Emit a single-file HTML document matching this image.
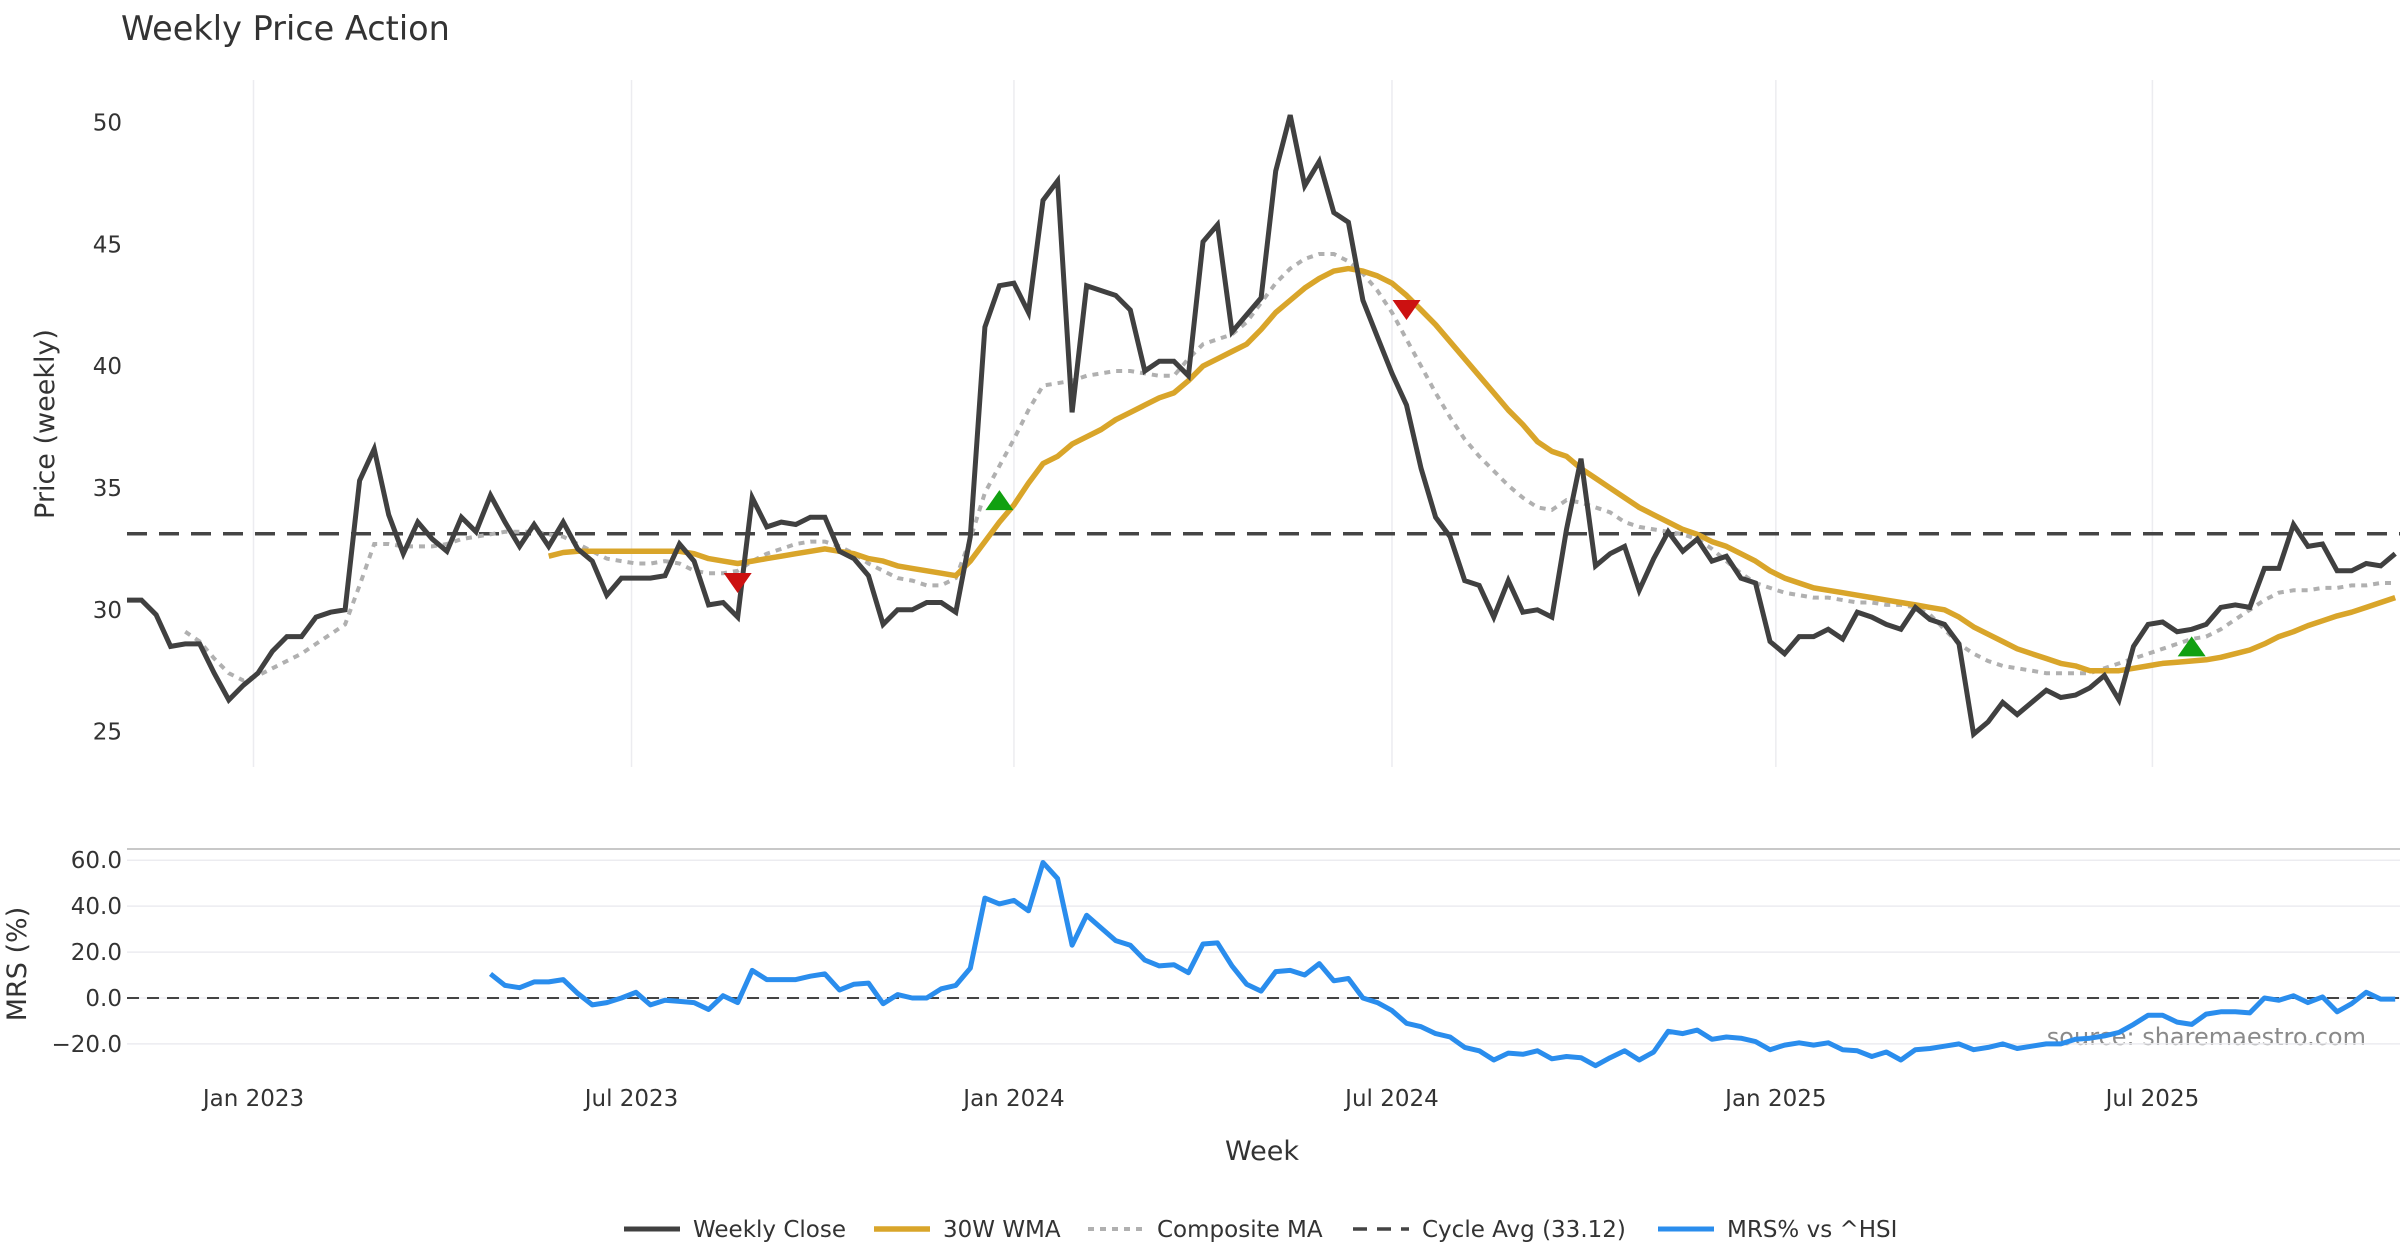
<!DOCTYPE html>
<html><head><meta charset="utf-8">
<style>
html,body{margin:0;padding:0;background:#fff;}
svg{display:block;font-family:"DejaVu Sans","Liberation Sans",sans-serif;}
</style></head>
<body>
<svg id="chart" width="2400" height="1260" viewBox="0 0 2400 1260">
<text x="121" y="40" font-size="33.5" fill="#333">Weekly Price Action</text>
<text transform="translate(54,424) rotate(-90)" text-anchor="middle" font-size="27" fill="#333">Price (weekly)</text>
<text transform="translate(26,964) rotate(-90)" text-anchor="middle" font-size="27" fill="#333">MRS (%)</text>
<text x="1262" y="1160" text-anchor="middle" font-size="27" fill="#333">Week</text>
<text x="2366" y="1045" text-anchor="end" font-size="24" fill="#8a8a8a">source: sharemaestro.com</text>
<g id="grid"></g>
<g id="marks"></g>
<g id="legend"></g>
</svg>
<script>
const xTickLabels = ["Jan 2023","Jul 2023","Jan 2024","Jul 2024","Jan 2025","Jul 2025"];
const xTickWeeks = [8.7,34.7,61.0,87.0,113.4,139.3];
const priceTicks = [25,30,35,40,45,50];
const mrsTicks = [-20,0,20,40,60];
const cycleAvg = 33.12;
const close = [30.4,30.4,29.8,28.5,28.6,28.6,27.4,26.3,26.9,27.4,28.3,28.9,28.9,29.7,29.9,30.0,35.3,36.6,33.9,32.3,33.6,32.9,32.4,33.8,33.2,34.7,33.6,32.6,33.5,32.6,33.6,32.5,32.0,30.6,31.3,31.3,31.3,31.4,32.7,32.0,30.2,30.3,29.7,34.6,33.4,33.6,33.5,33.8,33.8,32.4,32.1,31.4,29.4,30.0,30.0,30.3,30.3,29.9,33.0,41.6,43.3,43.4,42.2,46.8,47.6,38.1,43.3,43.1,42.9,42.3,39.8,40.2,40.2,39.6,45.1,45.8,41.4,42.1,42.8,48.0,50.3,47.4,48.4,46.3,45.9,42.7,41.2,39.7,38.4,35.8,33.8,33.0,31.2,31.0,29.7,31.2,29.9,30.0,29.7,33.3,36.2,31.8,32.3,32.6,30.8,32.1,33.2,32.4,32.9,32.0,32.2,31.3,31.1,28.7,28.2,28.9,28.9,29.2,28.8,29.9,29.7,29.4,29.2,30.1,29.6,29.4,28.6,24.9,25.4,26.2,25.7,26.2,26.7,26.4,26.5,26.8,27.3,26.3,28.5,29.4,29.5,29.1,29.2,29.4,30.1,30.2,30.1,31.7,31.7,33.5,32.6,32.7,31.6,31.6,31.9,31.8,32.3];
const wma = [32.2,32.35,32.4,32.4,32.4,32.4,32.4,32.4,32.4,32.4,32.3,32.1,32.0,31.9,32.0,32.1,32.2,32.3,32.4,32.5,32.4,32.3,32.1,32.0,31.8,31.7,31.6,31.5,31.4,32.0,32.8,33.6,34.3,35.2,36.0,36.3,36.8,37.1,37.4,37.8,38.1,38.4,38.7,38.9,39.4,40.0,40.3,40.6,40.9,41.5,42.2,42.7,43.2,43.6,43.9,44.0,43.9,43.7,43.4,42.9,42.3,41.7,41.0,40.3,39.6,38.9,38.2,37.6,36.9,36.5,36.3,35.8,35.4,35.0,34.6,34.2,33.9,33.6,33.3,33.1,32.8,32.6,32.3,32.0,31.6,31.3,31.1,30.9,30.8,30.7,30.6,30.5,30.4,30.3,30.2,30.1,30.0,29.7,29.3,29.0,28.7,28.4,28.2,28.0,27.8,27.7,27.5,27.5,27.5,27.6,27.7,27.8,27.85,27.9,27.95,28.05,28.2,28.35,28.6,28.9,29.1,29.35,29.55,29.75,29.9,30.1,30.3,30.5];
const composite = [29.1,28.7,28.0,27.4,27.1,27.3,27.6,27.9,28.2,28.6,29.0,29.4,31.0,32.7,32.7,32.6,32.6,32.6,32.7,32.9,33.0,33.1,33.2,33.2,33.2,33.1,33.0,32.7,32.4,32.1,32.0,31.9,31.9,32.0,31.9,31.6,31.5,31.5,31.6,32.0,32.3,32.5,32.7,32.8,32.8,32.6,32.3,31.9,31.6,31.3,31.2,31.0,31.0,31.3,32.9,34.8,35.9,37.0,38.2,39.2,39.3,39.4,39.6,39.7,39.8,39.8,39.7,39.6,39.6,40.3,40.9,41.1,41.3,41.8,42.6,43.4,44.0,44.4,44.6,44.6,44.3,43.8,43.1,42.2,41.1,40.0,38.9,37.9,37.0,36.3,35.7,35.1,34.6,34.2,34.1,34.5,34.4,34.2,34.0,33.6,33.4,33.3,33.2,33.1,32.9,32.5,32.0,31.5,31.1,30.9,30.7,30.6,30.5,30.5,30.4,30.3,30.3,30.2,30.2,30.1,29.8,29.2,28.6,28.2,27.9,27.7,27.6,27.5,27.4,27.4,27.4,27.4,27.6,27.8,28.0,28.2,28.4,28.6,28.8,28.9,29.2,29.6,30.0,30.4,30.7,30.8,30.8,30.9,30.9,31.0,31.0,31.1,31.1];
const mrs = [10.5,5.5,4.5,7,7,8,2,-3,-2,0,2.5,-3,-1,-1.5,-2,-5,1,-2,12,8,8,8,9.5,10.5,3.5,6,6.5,-2.5,1.5,0,0,4,5.5,13,43.5,41,42.5,38,59,52,23,36,30.5,25,23,16.5,14,14.5,11,23.5,24,14,6,3,11.5,12,10,15,7.5,8.5,0,-2,-5.5,-11,-12.5,-15.5,-17,-21.5,-23,-27,-24,-24.5,-23,-26.5,-25.5,-26,-29.5,-26,-23,-27,-23.5,-14.5,-15.5,-14,-18,-17,-17.5,-19,-22.5,-20.5,-19.5,-20.5,-19.5,-22.5,-23,-25.5,-23.5,-27,-22.5,-22,-21,-20,-22.5,-21.5,-20,-22,-21,-20,-20,-18,-17.5,-16.5,-15,-11.5,-7.5,-7.5,-10.5,-11.5,-7,-6,-6,-6.5,0,-1,1,-2,0.5,-6,-2.5,2.5,-0.5,-0.5];
const sellWeeks = [42,88];
const sellValues = [31.1,42.3];
const buyWeeks = [60,142];
const buyValues = [34.5,28.5];

const NS = "http://www.w3.org/2000/svg";
const N = close.length;
const X0 = 127, DX = 14.54;
function xw(i){ return X0 + i*DX; }
function yp(v){ return 122.4 + (50 - v)*24.37; }
function ym(v){ return 998 + (0 - v)*2.296; }
function mk(tag, attrs, parent){ const e=document.createElementNS(NS,tag); for(const k in attrs) e.setAttribute(k,attrs[k]); parent.appendChild(e); return e; }
const grid=document.getElementById('grid'), marks=document.getElementById('marks'), legend=document.getElementById('legend');

xTickWeeks.forEach((w,k)=>{
  const g1=mk('line',{x1:xw(w),x2:xw(w),y1:80,y2:767,stroke:'#ececf0','stroke-width':1.5},grid);
  
  
  const t=mk('text',{x:xw(w),y:1106,'text-anchor':'middle','font-size':23,fill:'#333'},grid);
  t.textContent=xTickLabels[k];
  
  
});
priceTicks.forEach(v=>{
  const t=mk('text',{x:122,y:yp(v)+8,'text-anchor':'end','font-size':23,fill:'#333'},grid);
  t.textContent=v;
  
  
});
const sep=mk('line',{x1:127,x2:2400,y1:849,y2:849,stroke:'#c8c8c8','stroke-width':2},grid);


mrsTicks.forEach(v=>{
  const l=mk('line',{x1:127,x2:2400,y1:ym(v),y2:ym(v),stroke:'#ececf0','stroke-width':1.5},grid);
  
  
  const t=mk('text',{x:122,y:ym(v)+8,'text-anchor':'end','font-size':23,fill:'#333'},grid);
  t.textContent=(v<0?'\u2212'+Math.abs(v).toFixed(1):v.toFixed(1));
  
  
});
const z=mk('line',{x1:127,x2:2400,y1:ym(0),y2:ym(0),stroke:'#444','stroke-width':2,'stroke-dasharray':'12,8'},grid);



function path(arr, start, yf){ return arr.map((v,k)=>(k?'L':'M')+xw(start+k).toFixed(1)+','+yf(v).toFixed(1)).join(' '); }
const ca=mk('line',{x1:127,x2:2400,y1:yp(cycleAvg),y2:yp(cycleAvg),stroke:'#444','stroke-width':3.5,'stroke-dasharray':'20,12'},marks);


const pc=mk('path',{d:path(composite,N-composite.length,yp),fill:'none',stroke:'#b0b0b0','stroke-width':4,'stroke-dasharray':'6,6'},marks);


const pw=mk('path',{d:path(wma,N-wma.length,yp),fill:'none',stroke:'#d9a52a','stroke-width':5.5,'stroke-linejoin':'round'},marks);


const pcl=mk('path',{d:path(close,0,yp),fill:'none',stroke:'#404040','stroke-width':5,'stroke-linejoin':'miter'},marks);


const pm=mk('path',{d:path(mrs,N-mrs.length,ym),fill:'none',stroke:'#2a8ded','stroke-width':5,'stroke-linejoin':'round'},marks);


sellWeeks.forEach((w,k)=>{
  const x=xw(w), y=yp(sellValues[k]);
  const p=mk('path',{d:`M${x-14},${y-10} L${x+14},${y-10} L${x},${y+10} Z`,fill:'#cc1111'},marks);
  
  
});
buyWeeks.forEach((w,k)=>{
  const x=xw(w), y=yp(buyValues[k]);
  const p=mk('path',{d:`M${x-14},${y+10} L${x+14},${y+10} L${x},${y-10} Z`,fill:'#11a011'},marks);
  
  
});
const legItems=[
 {x:624,label:'Weekly Close',stroke:'#404040',dash:null,w:5,name:'legend-weekly-close'},
 {x:874,label:'30W WMA',stroke:'#d9a52a',dash:null,w:5.5,name:'legend-wma'},
 {x:1088,label:'Composite MA',stroke:'#b0b0b0',dash:'6,6',w:4,name:'legend-composite-ma'},
 {x:1353,label:'Cycle Avg (33.12)',stroke:'#444',dash:'14,10',w:3.5,name:'legend-cycle-avg'},
 {x:1658,label:'MRS% vs ^HSI',stroke:'#2a8ded',dash:null,w:5,name:'legend-mrs'}
];
legItems.forEach(it=>{
  const g=mk('g',{},legend);
  
  
  const a={x1:it.x,x2:it.x+56,y1:1229,y2:1229,stroke:it.stroke,'stroke-width':it.w};
  if(it.dash) a['stroke-dasharray']=it.dash;
  mk('line',a,g);
  const t=mk('text',{x:it.x+69,y:1237,'font-size':23,fill:'#333'},g);
  t.textContent=it.label;
});
</script>
</body></html>
